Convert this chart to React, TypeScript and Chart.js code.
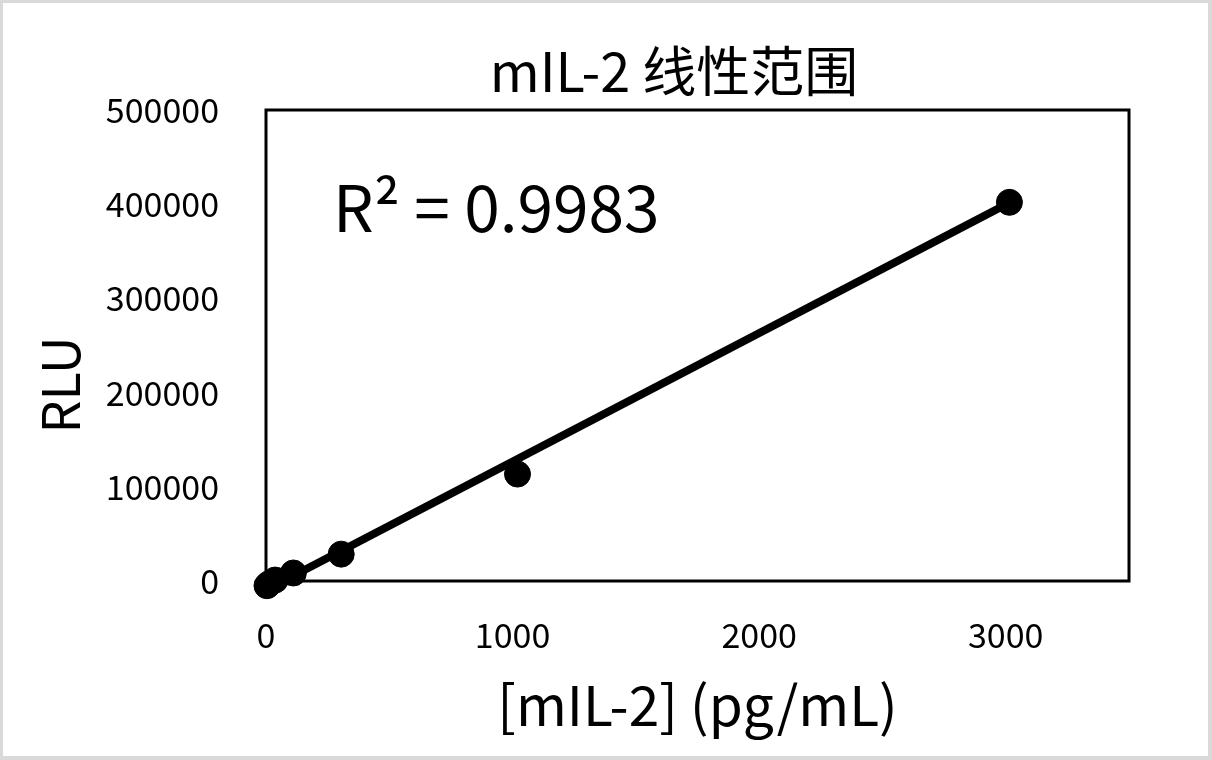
import { useEffect, useRef } from "react";
import { Chart, registerables, type ChartConfiguration, type Plugin } from "chart.js";

Chart.register(...registerables);

// standards (pg/mL) vs luminescence
const concX = [4, 12, 37, 111, 305, 1020, 3015];
const rluY = [-5000, -3000, 1000, 8500, 28500, 113500, 402000];

// linear fit ends, as drawn
const fitX = [4, 3015];
const fitY = [-9000, 401500];

const xTicks = [0, 1000, 2000, 3000];
const yTicks = [0, 100000, 200000, 300000, 400000, 500000];

const TITLE = "mIL-2 线性范围";
const R2_TEXT = "R² = 0.9983";
const X_TITLE = "[mIL-2] (pg/mL)";
const Y_TITLE = "RLU";

const FONT = "'Noto Sans CJK SC', 'Noto Sans', sans-serif";

const W = 1205;
const H = 753;

const decor: Plugin = {
  id: "decor",
  beforeDatasetsDraw(chart) {
    const { ctx, chartArea: a } = chart;
    ctx.save();
    ctx.strokeStyle = "#000";
    ctx.lineWidth = 3;
    ctx.strokeRect(a.left, a.top, a.right - a.left, a.bottom - a.top);
    ctx.restore();
  },
  afterDraw(chart) {
    const { ctx } = chart;
    ctx.save();
    ctx.fillStyle = "#000";
    ctx.textAlign = "center";
    ctx.textBaseline = "middle";
    ctx.font = `54px ${FONT}`;
    ctx.fillText(TITLE, 671, 68);

    ctx.textAlign = "left";
    ctx.textBaseline = "alphabetic";
    ctx.font = `64px ${FONT}`;
    ctx.fillText(R2_TEXT, 330, 229);

    ctx.translate(57, 382);
    ctx.rotate(-Math.PI / 2);
    ctx.textAlign = "center";
    ctx.textBaseline = "middle";
    ctx.font = `52px ${FONT}`;
    ctx.fillText(Y_TITLE, 0, 0);
    ctx.restore();
  },
};

export default function App() {
  const canvasRef = useRef<HTMLCanvasElement>(null);

  useEffect(() => {
    document.body.style.margin = "0";
    const ctx = canvasRef.current?.getContext("2d");
    if (!ctx) return;

    Chart.defaults.font.family = FONT;
    Chart.defaults.color = "#000";

    const config: ChartConfiguration<"scatter"> = {
      type: "scatter",
      data: {
        datasets: [
          {
            label: "standards",
            data: concX.map((x, i) => ({ x, y: rluY[i] })),
            backgroundColor: "#000",
            borderColor: "#000",
            borderWidth: 1,
            pointRadius: 13,
            clip: false,
            order: 1,
          },
          {
            label: "fit",
            data: fitX.map((x, i) => ({ x, y: fitY[i] })),
            showLine: true,
            borderColor: "#000",
            borderWidth: 8,
            pointRadius: 0,
            clip: false,
            order: 2,
          },
        ],
      },
      options: {
        responsive: false,
        animation: false,
        events: [],
        layout: { padding: { top: 107, right: 79, bottom: 0, left: 0 } },
        plugins: {
          legend: { display: false },
          tooltip: { enabled: false },
          title: { display: false },
        },
        scales: {
          x: {
            type: "linear",
            min: 0,
            max: 3500,
            grid: { display: false, drawTicks: false },
            border: { display: false },
            afterBuildTicks: (s) => {
              s.ticks = xTicks.map((value) => ({ value }));
            },
            ticks: {
              padding: 34,
              font: { size: 34 },
              maxRotation: 0,
              autoSkip: false,
              callback: (v) => String(v),
            },
            title: {
              display: true,
              text: X_TITLE,
              font: { size: 55 },
              padding: { top: 0, bottom: 18 },
            },
            afterFit: (s) => {
              s.height = 175;
            },
          },
          y: {
            type: "linear",
            min: 0,
            max: 500000,
            grid: { display: false, drawTicks: false },
            border: { display: false },
            afterBuildTicks: (s) => {
              s.ticks = yTicks.map((value) => ({ value }));
            },
            ticks: {
              padding: 47,
              font: { size: 34 },
              autoSkip: false,
              callback: (v) => String(v),
            },
            afterFit: (s) => {
              s.width = 263;
            },
          },
        },
      },
      plugins: [decor],
    };

    const chart = new Chart(ctx, config);
    return () => chart.destroy();
  }, []);

  return (
    <div
      style={{
        width: 1212,
        height: 760,
        boxSizing: "border-box",
        borderStyle: "solid",
        borderColor: "#d9d9d9",
        borderWidth: "3px 4px 4px 3px",
        background: "#fff",
      }}
    >
      <canvas ref={canvasRef} width={W} height={H} style={{ display: "block", width: W, height: H }} />
    </div>
  );
}
